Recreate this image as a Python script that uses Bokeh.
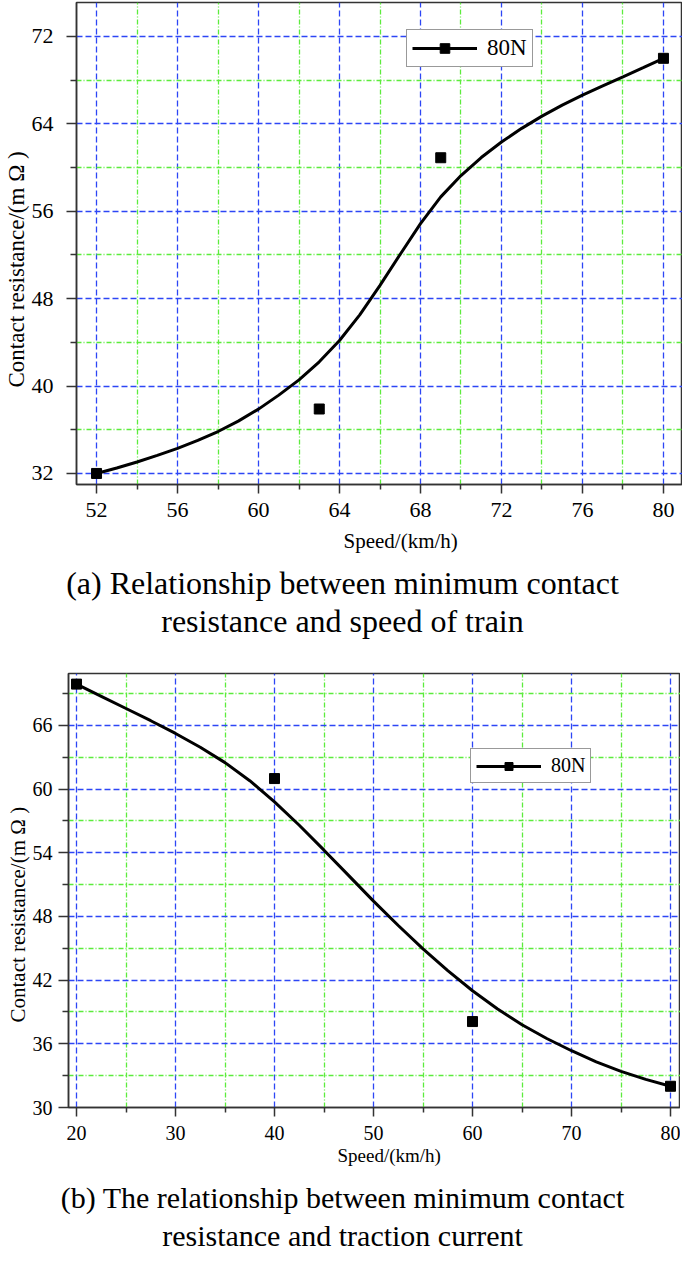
from bokeh.plotting import figure
from bokeh.models import Range1d, FixedTicker, Legend, LegendItem, Div, Title
from bokeh.layouts import column, row
from bokeh.embed import file_html
from bokeh.resources import INLINE

# ---------------- Panel (a) data ----------------
speed_a = [52, 63, 69, 80]
resist_a = [32.0, 37.9, 60.9, 70.0]
fit_speed_a = [52, 53, 54, 55, 56, 57, 58, 59, 60, 61, 62, 63, 64, 65, 66, 67,
               68, 69, 70, 71, 72, 73, 74, 75, 76, 77, 78, 79, 80]
fit_resist_a = [32.0, 32.5, 33.05, 33.65, 34.3, 35.02, 35.84, 36.79, 37.89,
                39.17, 40.57, 42.22, 44.17, 46.52, 49.22, 52.07, 54.87, 57.32,
                59.27, 60.92, 62.34, 63.59, 64.71, 65.71, 66.63, 67.48, 68.30,
                69.14, 70.0]
xticks_a = [52, 56, 60, 64, 68, 72, 76, 80]
xminor_a = [54, 58, 62, 66, 70, 74, 78]
yticks_a = [32, 40, 48, 56, 64, 72]
yminor_a = [36, 44, 52, 60, 68]

# ---------------- Panel (b) data ----------------
speed_b = [20, 40, 60, 80]
resist_b = [69.9, 61.0, 38.1, 32.0]
fit_speed_b = [20, 22.5, 25, 27.5, 30, 32.5, 35, 37.5, 40, 42.5, 45, 47.5, 50,
               52.5, 55, 57.5, 60, 62.5, 65, 67.5, 70, 72.5, 75, 77.5, 80]
fit_resist_b = [69.9, 68.75, 67.6, 66.45, 65.25, 63.95, 62.5, 60.8, 58.8,
                56.6, 54.25, 51.85, 49.45, 47.15, 44.95, 42.9, 41.0, 39.3,
                37.8, 36.5, 35.35, 34.3, 33.4, 32.65, 32.0]
xticks_b = [20, 30, 40, 50, 60, 70, 80]
xminor_b = [25, 35, 45, 55, 65, 75]
yticks_b = [30, 36, 42, 48, 54, 60, 66]
yminor_b = [33, 39, 45, 51, 57, 63, 69]

legend_label = "80N"
x_title = "Speed/(km/h)"
y_title = "Contact resistance/(m \u03a9 )"
caption_a = ["(a) Relationship between minimum contact",
             "resistance and speed of train"]
caption_b = ["(b) The relationship between minimum contact",
             "resistance and traction current"]

FONT = "Liberation Serif"
DARK = "#333333"
BLUE = "#2d46f5"
GREEN = "#5cec3c"


def make_panel(xs, ys, fxs, fys, xt, xm, yt, ym, xr, yr, fw, fh,
               bl, bt, bb, tick_fs, xt_fs, yt_fs, x_off, y_off, x_sd,
               leg_fs, leg_loc, leg_gh, ylab_sd, xlab_sd):
    p = figure(output_backend="svg", toolbar_location=None,
               frame_width=fw, frame_height=fh,
               x_range=Range1d(*xr), y_range=Range1d(*yr),
               min_border_left=bl, min_border_right=0,
               min_border_top=bt, min_border_bottom=bb,
               background_fill_color="white", border_fill_color="white")
    p.outline_line_color = DARK
    p.outline_line_width = 1.5
    p.outline_line_alpha = 1.0

    p.xaxis.ticker = FixedTicker(ticks=xt, minor_ticks=xm)
    p.yaxis.ticker = FixedTicker(ticks=yt, minor_ticks=ym)

    for g in (p.xgrid, p.ygrid):
        g.grid_line_color = BLUE
        g.grid_line_dash = "6 3"
        g.grid_line_width = 1.3
        g.minor_grid_line_color = GREEN
        g.minor_grid_line_dash = "5 2 1 2"
        g.minor_grid_line_width = 1.3

    for ax in (p.xaxis, p.yaxis):
        ax.axis_line_color = DARK
        ax.axis_line_width = 1.5
        ax.major_tick_line_color = DARK
        ax.major_tick_line_width = 1.5
        ax.minor_tick_line_color = DARK
        ax.minor_tick_line_width = 1.5
        ax.major_tick_in = 0
        ax.minor_tick_in = 0
        ax.major_label_text_font = FONT
        ax.major_label_text_font_size = tick_fs
        ax.major_label_text_color = "black"
    p.xaxis.major_tick_out = 9
    p.xaxis.minor_tick_out = 5
    p.yaxis.major_tick_out = 10
    p.yaxis.minor_tick_out = 6
    p.xaxis.major_label_standoff = xlab_sd
    p.yaxis.major_label_standoff = ylab_sd

    # axis titles, placed off-centre as in the original figure
    p.add_layout(Title(text=x_title, align="left", offset=x_off,
                       vertical_align="top",
                       text_font=FONT, text_font_size=xt_fs,
                       text_font_style="normal", text_color="black",
                       standoff=x_sd), "below")
    p.add_layout(Title(text=y_title, align="left", offset=y_off,
                       text_font=FONT, text_font_size=yt_fs,
                       text_font_style="normal", text_color="black",
                       standoff=0), "left")

    ln = p.line(fxs, fys, line_color="black", line_width=3)
    sc = p.scatter(xs, ys, marker="square", size=10,
                   fill_color="black", line_color="black")

    leg = Legend(items=[LegendItem(label=legend_label, renderers=[ln, sc])],
                 location=leg_loc, margin=0, padding=5,
                 glyph_width=65, glyph_height=leg_gh, label_height=leg_gh,
                 label_standoff=10, label_text_font=FONT,
                 label_text_font_size=leg_fs, label_text_color="black",
                 border_line_color=DARK, border_line_width=1.5,
                 background_fill_color="white", background_fill_alpha=1.0)
    p.add_layout(leg)
    return p


def caption(lines, h, fs, shift):
    html = (f'<div style="position:relative; top:{shift}px">'
            + "<br>".join(lines) + "</div>")
    return Div(text=html, width=685, height=h,
               margin=(0, 0, 0, 0),
               styles={"font-family": FONT, "font-size": f"{fs}px",
                       "line-height": "38px", "text-align": "center",
                       "color": "black", "width": "685px"})


p1 = make_panel(speed_a, resist_a, fit_speed_a, fit_resist_a,
                xticks_a, xminor_a, yticks_a, yminor_a,
                (51.01, 80.94), (30.99, 75.11), 606, 482,
                76, 2, 94, "22px", "21px", "23px", 267, 97, 18,
                "23px", (330, 417), 24, 13, 9)
p2 = make_panel(speed_b, resist_b, fit_speed_b, fit_resist_b,
                xticks_b, xminor_b, yticks_b, yminor_b,
                (19.19, 81.01), (30.0, 70.9), 612, 434,
                68, 10, 72, "20px", "19px", "21px", 269, 85, 4,
                "20px", (402, 324), 20, 6, 9)

cap1 = caption(caption_a, 85, 32, -14)
cap2 = caption(caption_b, 84, 30, 0)

layout = column(row(p1), cap1, row(p2), cap2, spacing=0)
open("out.html", "w").write(file_html(layout, INLINE))
